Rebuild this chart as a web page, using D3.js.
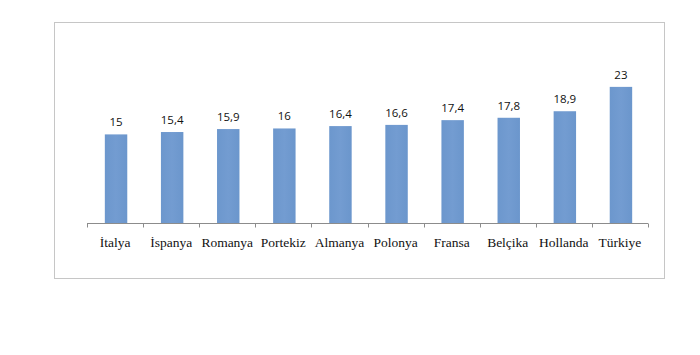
<!DOCTYPE html>
<html><head><meta charset="utf-8">
<script src="https://cdn.jsdelivr.net/npm/d3@7"></script>
<style>body{margin:0;background:#fff}</style>
</head><body>
<svg id="c" width="700" height="355"></svg>
<script>
const categories = ["İtalya","İspanya","Romanya","Portekiz","Almanya","Polonya","Fransa","Belçika","Hollanda","Türkiye"];
const values = [15,15.4,15.9,16,16.4,16.6,17.4,17.8,18.9,23];
const labels = ["15","15,4","15,9","16","16,4","16,6","17,4","17,8","18,9","23"];
const yMax = 25;

const svg = d3.select("#c");
svg.append("rect").attr("x",54.5).attr("y",22.5).attr("width",610).attr("height",256)
  .attr("fill","#fff").attr("stroke","#c6c6c6").attr("stroke-width",1);

const x = d3.scaleBand().domain(categories).range([88,649]).paddingInner(0.6).paddingOuter(0.3);
const y = d3.scaleLinear().domain([0,yMax]).range([223.5,75]);

const defs = svg.append("defs");
const g = defs.append("linearGradient").attr("id","bg").attr("x1","0").attr("x2","1").attr("y1","0").attr("y2","0");
g.append("stop").attr("offset","0%").attr("stop-color","#6c97cd");
g.append("stop").attr("offset","50%").attr("stop-color","#739cd1");
g.append("stop").attr("offset","100%").attr("stop-color","#6b96cc");

svg.selectAll("rect.bar").data(values).join("rect").attr("class","bar")
  .attr("x",(d,i)=>x(categories[i]))
  .attr("width",x.bandwidth())
  .attr("y",d=>y(d))
  .attr("height",d=>y(0)-y(d))
  .attr("fill","url(#bg)");

svg.selectAll("text.val").data(values).join("text").attr("class","val")
  .attr("x",(d,i)=>x(categories[i])+x.bandwidth()/2)
  .attr("y",d=>y(d)-8)
  .attr("text-anchor","middle")
  .attr("font-family","'Open Sans', 'Liberation Sans', sans-serif")
  .attr("font-size","11.5px").attr("fill","#111")
  .text((d,i)=>labels[i]);

// axis with boundary ticks
const xPos = d3.scaleBand().domain(categories).range([87,648]);
const axisG = svg.append("g").attr("transform","translate(0,223.5)");
axisG.append("line").attr("x1",87).attr("x2",648).attr("stroke","#8c8c8c");
const bounds = categories.map(c=>xPos(c)).concat([648]);
axisG.selectAll("line.tk").data(bounds).join("line").attr("class","tk")
  .attr("x1",d=>Math.round(d)+0.5).attr("x2",d=>Math.round(d)+0.5).attr("y1",0).attr("y2",4)
  .attr("stroke","#8c8c8c");
axisG.selectAll("text").data(categories).join("text")
  .attr("x",d=>xPos(d)+xPos.bandwidth()/2)
  .attr("y",23)
  .attr("text-anchor","middle")
  .attr("font-family","'Liberation Serif', 'Times New Roman', serif")
  .attr("font-size","13.5px").attr("fill","#111")
  .text(d=>d);
</script>
</body></html>
